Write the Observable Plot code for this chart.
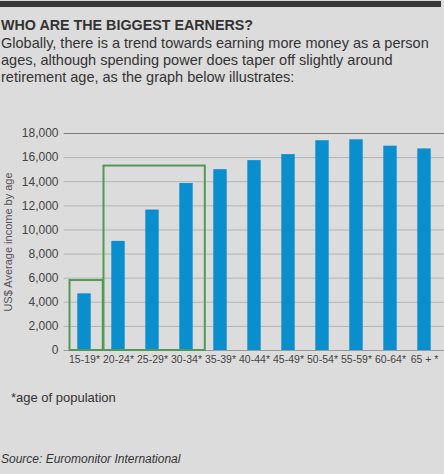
<!DOCTYPE html>
<html>
<head>
<meta charset="utf-8">
<script src="https://cdn.jsdelivr.net/npm/d3@7"></script>
<script src="https://cdn.jsdelivr.net/npm/@observablehq/plot@0.6"></script>
<style>
  html, body { margin: 0; padding: 0; background: #dcdcdc; }
  body { width: 444px; height: 474px; position: relative; overflow: hidden; font-family: "Liberation Sans", Arial, sans-serif; color: #333; }
  #bar { position: absolute; left: 0; top: 1px; width: 441px; height: 6px; background: #383838; }
  #title { position: absolute; left: 1px; top: 17px; font-weight: bold; font-size: 14.3px; line-height: 16px; color: #333; }
  #sub { position: absolute; left: 1px; top: 35px; font-size: 14.5px; line-height: 17px; color: #333; width: 444px; }
  #chart { position: absolute; left: 0; top: 100px; }
  #note { position: absolute; left: 11px; top: 390px; font-size: 13px; color: #333; }
  #src { position: absolute; left: 1px; top: 452px; font-size: 12px; font-style: italic; color: #333; }
</style>
</head>
<body>
<div id="bar"></div>
<div id="title">WHO ARE THE BIGGEST EARNERS?</div>
<div id="sub">Globally, there is a trend towards earning more money as a person ages, although spending power does taper off slightly around retirement age, as the graph below illustrates:</div>
<div id="chart"></div>
<div id="note">*age of population</div>
<div id="src">Source: Euromonitor International</div>
<script>
const ageGroups = ["15-19*", "20-24*", "25-29*", "30-34*", "35-39*", "40-44*", "45-49*", "50-54*", "55-59*", "60-64*", "65 + *"];
const income = [4700, 9050, 11650, 13850, 15000, 15750, 16250, 17400, 17480, 16950, 16720];
const yTicks = [0, 2000, 4000, 6000, 8000, 10000, 12000, 14000, 16000, 18000];
const boxFrom = ["15-19*", "20-24*"];
const boxTo = ["15-19*", "30-34*"];
const boxTop = [5800, 15300];

const data = ageGroups.map((a, i) => ({age: a, value: income[i]}));
const boxes = boxFrom.map((f, i) => ({from: f, to: boxTo[i], top: boxTop[i]}));

const chart = Plot.plot({
  width: 444,
  height: 270,
  marginLeft: 63.7,
  marginRight: 0,
  marginTop: 33,
  marginBottom: 20,
  style: {background: "transparent", fontFamily: "Liberation Sans, Arial, sans-serif", fontSize: "11px", color: "#444"},
  x: {domain: ageGroups, padding: 0, label: null},
  y: {domain: [0, 18000], label: null},
  marks: [
    Plot.gridY(yTicks.filter(d => d > 0 && d < 18000), {stroke: "#b4b4b4", strokeOpacity: 1}),
    Plot.ruleY([18000], {stroke: "#7a7a7a"}),
    Plot.ruleY([0], {stroke: "#9a9a9a"}),
    Plot.barY(data, {x: "age", y: "value", fill: "#0a8ecd", insetLeft: 10.3, insetRight: 10.3}),
    Plot.rect(boxes, {x1: "from", x2: "to", y1: 0, y2: "top", fill: "none", stroke: "#4f9a55", strokeWidth: 2, insetLeft: 2.5, insetRight: -1.8}),
    Plot.axisY(yTicks, {tickSize: 0, tickPadding: 5.7, tickFormat: d => d3.format(",")(d), fill: "#444", fontSize: 12}),
    Plot.axisX({tickSize: 0, tickPadding: 5, fill: "#444", fontSize: 10.5, label: null, letterSpacing: "-0.25px"}),
    Plot.text(["US$ Average income by age"], {frameAnchor: "left", textAnchor: "middle", dx: -56, rotate: -90, fill: "#555", fontSize: 11})
  ]
});
document.getElementById("chart").appendChild(chart);
</script>
</body>
</html>
